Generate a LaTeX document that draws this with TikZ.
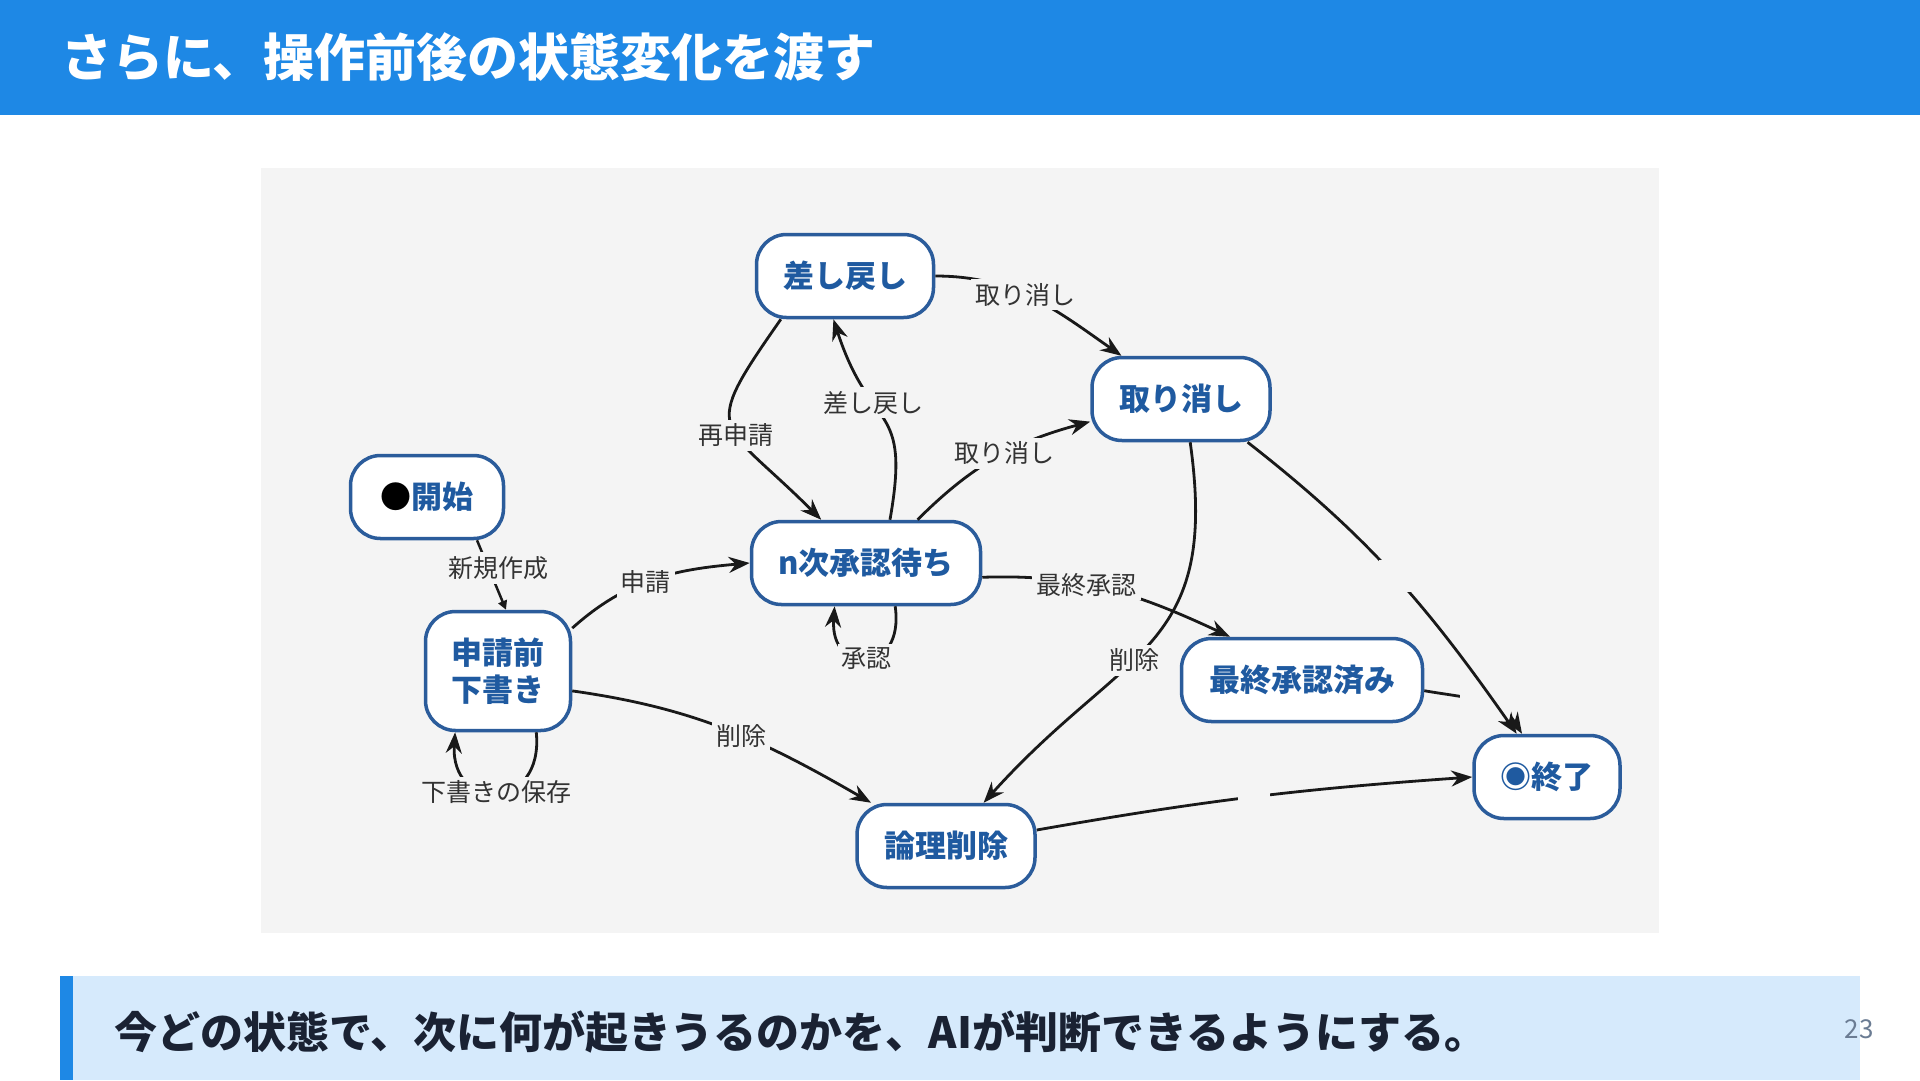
\documentclass[tikz,border=0pt]{standalone}
\usepackage{fontspec}
\setmainfont{Noto Sans CJK JP}
\usetikzlibrary{arrows.meta, positioning}

\definecolor{headblue}{HTML}{1E88E5}
\definecolor{panelgray}{HTML}{F4F4F4}
\definecolor{noteblue}{HTML}{D6EAFC}
\definecolor{stateline}{HTML}{2B5C9B}
\definecolor{statetext}{HTML}{1F5AA0}
\definecolor{labelgray}{HTML}{333333}
\definecolor{notetext}{HTML}{1A2233}
\definecolor{pagegray}{HTML}{6B7C93}

\tikzstyle{state} = [rectangle, rounded corners=30pt, minimum height=83pt, text centered, draw=stateline, line width=3.5pt, fill=white, text=statetext, font=\fontsize{31}{37}\selectfont\bfseries]
\tikzstyle{lbl} = [fill=panelgray, inner sep=4pt, text=labelgray, font=\fontsize{25}{30}\selectfont]
\tikzstyle{edgegap} = [fill=panelgray, inner sep=0pt, minimum size=32pt]
\tikzstyle{arrow} = [line width=2.8pt, draw=black!90, -{Stealth[length=21pt, width=16pt]}]

\begin{document}
\begin{tikzpicture}[x=1pt, y=1pt]

	\useasboundingbox (0,0) rectangle (1920,-1080);

	% Slide background
	\fill[white] (0,0) rectangle (1920,-1080);
	\fill[headblue] (0,0) rectangle (1920,-115);
	\fill[panelgray] (261,-168) rectangle (1659,-933);
	\fill[noteblue] (60,-976) rectangle (1860,-1080);
	\fill[headblue] (60,-976) rectangle (73,-1080);

	\node (title) [anchor=west, inner sep=0pt, text=white, font=\fontsize{51}{60}\selectfont\bfseries] at (61,-57) {さらに、操作前後の状態変化を渡す};
	\node (note) [anchor=west, inner sep=0pt, text=notetext, font=\fontsize{43}{50}\selectfont\bfseries] at (114,-1032) {今どの状態で、次に何が起きうるのかを、AIが判断できるようにする。};
	\node (pagenum) [text=pagegray, font=\fontsize{26}{30}\selectfont] at (1859,-1029) {23};

	% States
	\node (sendback) [state, minimum width=177pt] at (845,-276) {差し戻し};
	\node (cancel) [state, minimum width=178pt] at (1181,-399) {取り消し};
	\node (start) [state, minimum width=153pt] at (427,-497) {{\color{black}●}開始};
	\node (nwait) [state, minimum width=229pt] at (866,-563) {n次承認待ち};
	\node (draft) [state, minimum width=145pt, minimum height=119pt, align=center] at (498,-671) {申請前\\下書き};
	\node (final) [state, minimum width=241pt] at (1302,-680) {最終承認済み};
	\node (finish) [state, minimum width=146pt] at (1547,-777) {◉終了};
	\node (lodel) [state, minimum width=178pt] at (946,-846) {論理削除};

	% From start / draft
	\draw [line width=2.5pt, draw=black!90, -{Triangle[length=9pt, width=9pt]}] ([xshift=50pt]start.south) -- node[lbl, pos=0.4, xshift=10pt] {新規作成} ([xshift=8pt]draft.north);
	\draw [arrow] (draft.30) to[out=42, in=185] node[lbl, pos=0.45] {申請} (nwait.west);
	\draw [arrow] (draft.-58) .. controls +(8,-80) and +(-5,-80) .. node[lbl] {下書きの保存} (draft.-125);
	\draw [arrow] (draft.-15) to[out=-8, in=150] node[lbl, pos=0.55] {削除} (lodel.150);

	% Around n-th approval
	\draw [arrow] (nwait.61) to[out=80, in=-72, looseness=1.5] node[lbl, pos=0.62] {差し戻し} (sendback.-105);
	\draw [arrow] (sendback.-146) to[out=-125, in=135, looseness=1.8] node[lbl, pos=0.57] {再申請} (nwait.136);
	\draw [arrow] (nwait.40) to[out=45, in=195] node[lbl, pos=0.55] {取り消し} (cancel.-166);
	\draw [arrow] (sendback.east) to[out=0, in=145] node[lbl, pos=0.45] {取り消し} (cancel.144);
	\draw [arrow] (nwait.-56) .. controls +(10,-70) and +(-5,-70) .. node[lbl] {承認} (nwait.-126);
	\draw [arrow] (nwait.-7) to[out=2, in=155] node[lbl, pos=0.4] {最終承認} (final.149);

	% To the end states
	\draw [arrow] (cancel.-78) to[out=-82, in=48, looseness=1.3] node[lbl, pos=0.57] {削除} (lodel.49);
	\draw [arrow] (final.-5) to[out=-10, in=122] node[edgegap, pos=0.55, minimum width=50pt, minimum height=36pt] {} (finish.120);
	\draw [arrow] (cancel.-33) to[out=-38, in=125] node[edgegap, pos=0.5] {} (finish.125);
	\draw [arrow] (lodel.10) to[out=10, in=184] node[edgegap, pos=0.5] {} (finish.west);

\end{tikzpicture}
\end{document}
